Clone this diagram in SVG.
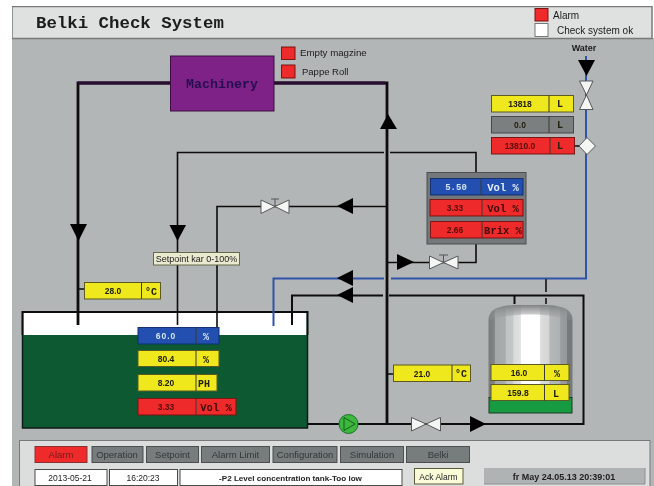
<svg xmlns="http://www.w3.org/2000/svg" width="654" height="486" viewBox="0 0 654 486">
<style>
.s{font-family:"Liberation Sans",Arial,sans-serif;fill:#1a1a1a}
.m{font-family:"Liberation Mono","Courier New",monospace;font-weight:bold}
.v{font-family:"Liberation Sans",Arial,sans-serif;font-weight:bold;font-size:8.5px;text-anchor:middle;fill:#20200a}
.u{font-family:"Liberation Mono",monospace;font-weight:bold;font-size:10px;text-anchor:middle;fill:#20200a}
.y{fill:#efe81e;stroke:#5b5a20;stroke-width:1}
.r{fill:#ee2a2a;stroke:#7a1515;stroke-width:1}
.b{fill:#2050b0;stroke:#12306e;stroke-width:1}
.g{fill:#7c7f80;stroke:#45484a;stroke-width:1}
.d{stroke:#3a3a30;stroke-width:1;fill:none}
.p{fill:none;stroke:#0c0c0c;stroke-linejoin:miter}
.t1{stroke-width:1.6}.t2{stroke-width:2}.t3{stroke-width:2.8}
.bl{fill:none;stroke:#2f52a8;stroke-width:2}
.a{fill:#050505}
.vv{fill:#f4f6f4;stroke:#55585a;stroke-width:1}
.btn{fill:#777b7c;stroke:#4c4f50;stroke-width:1}
.bt{font-family:"Liberation Sans",Arial,sans-serif;font-size:9.5px;text-anchor:middle;fill:#33383a}
.w{fill:#fff;stroke:#4a4a4a;stroke-width:1}
.wt{font-family:"Liberation Sans",Arial,sans-serif;font-size:8.5px;text-anchor:middle;fill:#222}
.rt{fill:#5a0c0c}
.rv{fill:#3d0a0a;font-size:10.500px}
.bv{fill:#d5e4f5}
</style>
<defs>
<linearGradient id="tg" x1="0" x2="1" y1="0" y2="0">
<stop offset="0" stop-color="#787c7d"/><stop offset="0.07" stop-color="#808485"/><stop offset="0.08" stop-color="#a5a8a9"/><stop offset="0.2" stop-color="#a9acad"/><stop offset="0.21" stop-color="#c0c3c3"/><stop offset="0.29" stop-color="#c4c7c7"/><stop offset="0.3" stop-color="#d8dada"/><stop offset="0.38" stop-color="#e0e2e2"/><stop offset="0.39" stop-color="#ffffff"/><stop offset="0.61" stop-color="#ffffff"/><stop offset="0.62" stop-color="#dcdede"/><stop offset="0.72" stop-color="#d4d6d6"/><stop offset="0.73" stop-color="#b5b8b8"/><stop offset="0.85" stop-color="#aeb1b1"/><stop offset="0.86" stop-color="#9a9d9e"/><stop offset="0.93" stop-color="#95989a"/><stop offset="0.94" stop-color="#75797a"/><stop offset="1" stop-color="#75797a"/>
</linearGradient>
<linearGradient id="td" x1="0" x2="0" y1="0" y2="1">
<stop offset="0" stop-color="#7d8182" stop-opacity="1"/><stop offset="1" stop-color="#9ea1a2" stop-opacity="0"/>
</linearGradient>
<filter id="soft" x="0" y="0" width="100%" height="100%"><feGaussianBlur stdDeviation="0.4"/></filter>
</defs>
<rect width="654" height="486" fill="#fff"/>
<g filter="url(#soft)">
<g id="background">
<rect x="12" y="38" width="642" height="448" fill="#b3b6b6"/>
<rect x="12" y="6.500" width="640" height="32" fill="#dfe1e0" stroke="#77797a" stroke-width="1.500"/>
<text x="36" y="28" class="m" font-size="17.400" fill="#1c1c1c">Belki Check System</text>
</g>
<g id="tank-body">
<rect x="22.500" y="312" width="285" height="116" fill="#0a5a32" stroke="#101a14" stroke-width="1.500"/>
<rect x="23.500" y="313" width="283" height="22" fill="#fff"/>
<path d="M22.500 335V312H307.500V335" fill="none" stroke="#111" stroke-width="1.800"/>
</g>
<g id="connectors">
<path class="p t3" d="M170 83H78V325"/>
<path d="M170 83H78" fill="none" stroke="#2a0c30" stroke-width="2.800"/>
<path class="p t3" d="M274 83H387V424"/>
<path d="M274 83H385" fill="none" stroke="#2a0c30" stroke-width="2.800"/>
<path class="p t1" d="M384 152.500H177.500V325"/>
<path class="p t1" d="M390 152.500H476V172"/>
<path class="p t1" d="M387 206.500H217V327"/>
<path class="p t1" d="M387 262.500H476V244"/>
<path class="bl" d="M273.500 326V278.500H384M391 278.500H586V56"/>
<path class="p t2" d="M292 325V295.500H383M389 295.500H583.500V424H308"/>
<path class="p t2" d="M514.500 295V304"/>
<path d="M546 279V292M546 298V304" fill="none" stroke="#333" stroke-width="2"/>
<path class="p t1" d="M78 289H84M388 374H393M574 146H580"/>
<path class="a" d="M70 224H87L78.500 241Z"/>
<path class="a" d="M169.500 225H186L177.500 241Z"/>
<path class="a" d="M380 129L388 114L397 129Z"/>
<path class="a" d="M353 198V214L337 206Z"/>
<path class="a" d="M397 254V270L414 262Z"/>
<path class="a" d="M353 270V286L337 278Z"/>
<path class="a" d="M353 287V303L337 295Z"/>
<path class="a" d="M470 416V432L486 424Z"/>
<path class="a" d="M578 60H595L586.500 76Z"/>
</g>
<g id="machinery">
<rect x="170.500" y="56" width="103.500" height="55" fill="#7f2187" stroke="#3a1040" stroke-width="1"/>
<text x="222" y="88" class="m" text-anchor="middle" font-size="13.300" fill="#250f50">Machinery</text>
</g>
<g id="empty-magazine">
<rect x="281.500" y="47" width="13.500" height="12.500" class="r"/>
<text x="300" y="56" class="s" font-size="9.700">Empty magzine</text>
</g>
<g id="pappe-roll">
<rect x="281.500" y="65" width="13.500" height="13" class="r"/>
<text x="302" y="75" class="s" font-size="9.500">Pappe Roll</text>
</g>
<g id="legend-alarm">
<rect x="535" y="8.500" width="13" height="12.500" class="r"/>
<text x="553" y="19" class="s" font-size="10">Alarm</text>
</g>
<g id="legend-ok">
<rect x="535" y="23.500" width="13" height="13" fill="#fff" stroke="#777" stroke-width="1"/>
<text x="557" y="34" class="s" font-size="10">Check system ok</text>
</g>
<g id="water">
<text x="584" y="51" class="s" font-size="9" text-anchor="middle" font-weight="bold">Water</text>
</g>
<g id="valve-water">
<path class="vv" d="M579.500 81H593L586.500 95ZM586.500 95L579.500 109.500H593Z"/>
</g>
<g id="reading-13818">
<rect x="491.500" y="95.500" width="82" height="16.500" class="y"/><path class="d" d="M549 95.500V112"/>
<text x="520" y="107" class="v">13818</text><text x="560" y="107" class="u">L</text>
</g>
<g id="reading-0">
<rect x="491.500" y="116.500" width="82" height="16.500" class="g"/><path class="d" d="M549 116.500V133"/>
<text x="520" y="128" class="v">0.0</text><text x="560" y="128" class="u">L</text>
</g>
<g id="reading-13810">
<rect x="491.500" y="137.500" width="83" height="16.500" class="r"/><path class="d" d="M550 137.500V154"/>
<text x="520" y="149" class="v rt">13810.0</text><text x="560" y="149" class="u">L</text>
</g>
<g id="sensor-water">
<path class="vv" d="M587 137.500L595.500 146L587 154.500L579 146Z"/>
</g>
<g id="quality-panel">
<rect x="427" y="172.500" width="99" height="71.500" fill="#74787a" stroke="#4d5052" stroke-width="1"/>
<rect x="430.500" y="178.500" width="92.500" height="16.500" class="b"/><path class="d" d="M481 178.500V195"/>
<text x="456" y="190" class="u bv" style="font-size:9px">5.50</text>
<text x="503" y="191" class="u" style="fill:#e6eefa;font-size:10.500px">Vol %</text>
<rect x="430" y="199.500" width="93" height="16.500" class="r"/><path class="d" d="M482 199.500V216"/>
<text x="455" y="211" class="v rt">3.33</text>
<text x="503" y="212" class="u rv">Vol %</text>
<rect x="430.500" y="221.500" width="92.500" height="16.500" class="r"/><path class="d" d="M482 221.500V238"/>
<text x="455" y="233" class="v rt">2.66</text>
<text x="503" y="234" class="u rv">Brix %</text>
</g>
<g id="valve-upper">
<path class="vv" d="M261 200V213.500L275 206.500ZM289 200V213.500L275 206.500Z"/>
<path d="M271 199H279M275 199V206" fill="none" stroke="#555" stroke-width="1"/>
</g>
<g id="valve-middle">
<path class="vv" d="M429.500 256V269L443.500 262.500ZM458 256V269L443.500 262.500Z"/>
<path d="M439 255H448M443.500 255V262" fill="none" stroke="#555" stroke-width="1"/>
</g>
<g id="valve-bottom">
<path class="vv" d="M411.500 417.500V431L426 424ZM440.500 417.500V431L426 424Z"/>
</g>
<g id="pump">
<circle cx="348.500" cy="424" r="9.500" fill="#3cb83c" stroke="#1f6f2a" stroke-width="1"/>
<path d="M344 417.500L355 424L344 430.500Z" fill="none" stroke="#145c20" stroke-width="1"/>
</g>
<g id="setpoint-label">
<rect x="153.500" y="252.500" width="86" height="12.500" fill="#e9ead0" stroke="#66684a" stroke-width="1"/>
<text x="196.500" y="262" class="s" font-size="9" text-anchor="middle">Setpoint  kar 0-100%</text>
</g>
<g id="reading-28">
<rect x="84.500" y="282.500" width="76" height="16.500" class="y"/><path class="d" d="M141.500 282.500V299"/>
<text x="113" y="294" class="v">28.0</text><text x="151" y="295" class="u">°C</text>
</g>
<g id="reading-60">
<rect x="138" y="327.500" width="81" height="16.500" class="b"/><path class="d" d="M196 327.500V344"/>
<text x="166" y="339" class="v bv" style="letter-spacing:1px">60.0</text><text x="206" y="340" class="u bv">%</text>
</g>
<g id="reading-80">
<rect x="138" y="350.500" width="81" height="16" class="y"/><path class="d" d="M196 350.500V366.500"/>
<text x="166" y="362" class="v">80.4</text><text x="206" y="363" class="u">%</text>
</g>
<g id="reading-ph">
<rect x="138" y="374.500" width="79" height="16.500" class="y"/><path class="d" d="M196 374.500V391"/>
<text x="166" y="386" class="v">8.20</text><text x="204" y="387" class="u">PH</text>
</g>
<g id="reading-vol">
<rect x="138" y="398.500" width="98" height="16.500" class="r"/><path class="d" d="M196 398.500V415"/>
<text x="166" y="410" class="v rt">3.33</text><text x="216" y="411" class="u rv">Vol %</text>
</g>
<g id="storage-tank">
<path d="M488.500 398V320C488.500 311 496 307 507 305.500C515 304.500 546 304.500 554 305.500C565 307 572.500 311 572.500 320V398Z" fill="url(#tg)"/>
<path d="M488.500 322V320C488.500 311 496 307 507 305.500C515 304.500 546 304.500 554 305.500C565 307 572.500 311 572.500 320V322C555 312 506 312 488.500 322Z" fill="url(#td)"/>
<rect x="489" y="397.500" width="83" height="15.500" fill="#149a42" stroke="#1e3b22" stroke-width="1"/>
</g>
<g id="reading-16">
<rect x="491" y="364.500" width="78" height="16" class="y"/><path class="d" d="M544.500 364.500V380.500"/>
<text x="519" y="376" class="v">16.0</text><text x="557" y="377" class="u">%</text>
</g>
<g id="reading-159">
<rect x="491" y="384.500" width="78" height="16" class="y"/><path class="d" d="M544.500 384.500V400.500"/>
<text x="518" y="396" class="v">159.8</text><text x="556" y="397" class="u">L</text>
</g>
<g id="reading-21">
<rect x="393.500" y="365" width="77" height="16.500" class="y"/><path class="d" d="M452 365V381.500"/>
<text x="422" y="377" class="v">21.0</text><text x="461" y="377" class="u">°C</text>
</g>
<g id="control-panel">
<rect x="19.500" y="440.500" width="630.500" height="48" fill="#dcdedd" stroke="#77797a" stroke-width="1"/>
<rect x="35" y="446.500" width="52" height="16" fill="#ee2a2a" stroke="#8a3030" stroke-width="1"/>
<text x="61" y="458" class="bt" style="fill:#7a1a1a">Alarm</text>
<rect x="92" y="446.500" width="51" height="16" class="btn"/><text x="117" y="458" class="bt">Operation</text>
<rect x="146.500" y="446.500" width="52" height="16" class="btn"/><text x="172.500" y="458" class="bt">Setpoint</text>
<rect x="201.500" y="446.500" width="68" height="16" class="btn"/><text x="235.500" y="458" class="bt">Alarm Limit</text>
<rect x="273" y="446.500" width="64" height="16" class="btn"/><text x="305" y="458" class="bt">Configuration</text>
<rect x="340.500" y="446.500" width="63" height="16" class="btn"/><text x="372" y="458" class="bt">Simulation</text>
<rect x="406.500" y="446.500" width="63" height="16" class="btn"/><text x="438" y="458" class="bt">Belki</text>
<rect x="35" y="469.500" width="72" height="16" class="w"/><text x="70" y="481" class="wt">2013-05-21</text>
<rect x="109.500" y="469.500" width="68" height="16" class="w"/><text x="143" y="481" class="wt">16:20:23</text>
<rect x="180" y="469.500" width="222" height="16" class="w"/><text x="290.500" y="481" class="wt" font-weight="bold" style="font-size:8.100px">-P2 Level concentration tank-Too low</text>
<rect x="414.500" y="468.500" width="48.500" height="15.500" fill="#fbfbd8" stroke="#5a5a3a" stroke-width="1"/><text x="438.500" y="479.500" class="wt">Ack Alarm</text>
<rect x="484" y="468" width="161" height="16" fill="#b0b3b3"/><path d="M484 484H645V468" fill="none" stroke="#8c8f8f"/><text x="564" y="480" class="wt" font-weight="bold" style="font-size:9px">fr May 24.05.13 20:39:01</text>
</g>
</g>
</svg>
